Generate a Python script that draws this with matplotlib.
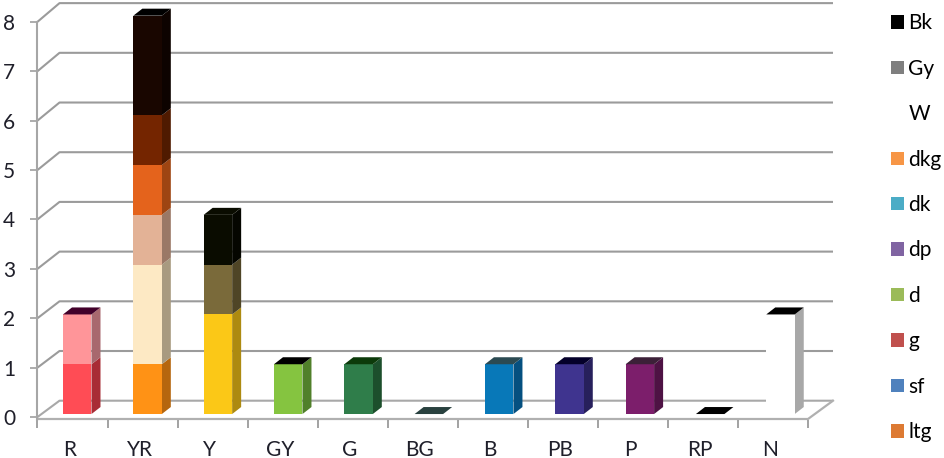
import matplotlib
matplotlib.use("Agg")
import matplotlib.pyplot as plt
from matplotlib.patches import Patch, Polygon

categories = ["R", "YR", "Y", "GY", "G", "BG", "B", "PB", "P", "RP", "N"]
ltg = [1, 1, 2, 1, 1, 0, 1, 1, 1, 0, 0]
sf = [1, 2, 0, 0, 0, 0, 0, 0, 0, 0, 0]
g = [0, 1, 0, 0, 0, 0, 0, 0, 0, 0, 0]
d = [0, 1, 0, 0, 0, 0, 0, 0, 0, 0, 0]
dp = [0, 1, 1, 0, 0, 0, 0, 0, 0, 0, 0]
dk = [0, 0, 0, 0, 0, 0, 0, 0, 0, 0, 0]
dkg = [0, 2, 1, 0, 0, 0, 0, 0, 0, 0, 0]
W = [0, 0, 0, 0, 0, 0, 0, 0, 0, 0, 2]
Gy = [0, 0, 0, 0, 0, 0, 0, 0, 0, 0, 0]
Bk = [0, 0, 0, 0, 0, 0, 0, 0, 0, 0, 0]
series_names = ["ltg", "sf", "g", "d", "dp", "dk", "dkg", "W", "Gy", "Bk"]
series_values = [ltg, sf, g, d, dp, dk, dkg, W, Gy, Bk]
legend_colors = ["#dd7a33", "#4f81bd", "#c0504d", "#9bbb59", "#8064a2",
                 "#4bacc6", "#f79646", "#ffffff", "#7f7f7f", "#000000"]

# (front colour, side colour) of each stacked cell
cell_colors = {
    ("ltg", "R"): ("#ff4c55", "#a82c35"), ("sf", "R"): ("#ff9599", "#a8686e"),
    ("ltg", "YR"): ("#ff9215", "#b5660e"), ("sf", "YR"): ("#fde9c4", "#a89a80"),
    ("g", "YR"): ("#e3b296", "#9a7866"), ("d", "YR"): ("#e4631c", "#9e4512"),
    ("dp", "YR"): ("#742500", "#4f1a00"), ("dkg", "YR"): ("#190600", "#0d0300"),
    ("ltg", "Y"): ("#fbc817", "#ad8a10"), ("dp", "Y"): ("#7a6a3a", "#4f4526"),
    ("dkg", "Y"): ("#0a0c00", "#050600"),
    ("ltg", "GY"): ("#85c440", "#50802a"), ("ltg", "G"): ("#2f7d4a", "#1c4f2c"),
    ("ltg", "B"): ("#0878b8", "#055080"), ("ltg", "PB"): ("#3f348f", "#27205c"),
    ("ltg", "P"): ("#7c1e6b", "#4e1244"), ("W", "N"): ("#ffffff", "#a8a8a8"),
}
top_colors = ["#42002a", "#000000", "#0a0c00", "#000000", "#0c3a0a", "#29413f",
              "#2b4a52", "#04002a", "#3c2038", "#000000", "#000000"]

plt.rcParams["font.family"] = ["Lato", "DejaVu Sans"]
FS = 15
TXT = "#1f1f2a"
W_PX, H_PX = 945, 458
fig = plt.figure(figsize=(W_PX / 100, H_PX / 100), dpi=100)

# axes: x is the category index, y the value on the front (tick) plane
LEFT, RIGHT, TOP_V0, UNIT = 37.5, 808.0, 417.0, 49.4
BOTTOM_PX = 420.0
ax = fig.add_axes([LEFT / W_PX, (H_PX - BOTTOM_PX) / H_PX,
                   (RIGHT - LEFT) / W_PX, BOTTOM_PX / H_PX])
XU = (RIGHT - LEFT) / len(categories)
ax.set_xlim(0, len(categories))
ax.set_ylim((TOP_V0 - BOTTOM_PX) / UNIT, TOP_V0 / UNIT)
ax.patch.set_alpha(0)


def back_y(v):
    return 0.33 + 1.006 * v


def bar_y(v):
    return 0.06 + 1.008 * v


GRID = "#9b9b9b"
BACK_DX = 22 / XU
RIGHT_DX = 25 / XU
for v in range(0, 9):
    col = "#a8a8a8" if v == 0 else GRID
    ax.plot([0, BACK_DX, len(categories) + RIGHT_DX],
            [v, back_y(v), back_y(v)], color=col, lw=1.5,
            clip_on=False, zorder=1, solid_capstyle="butt")
# floor front and right edges
ax.plot([0, len(categories), len(categories) + RIGHT_DX],
        [(TOP_V0 - 419) / UNIT, (TOP_V0 - 419) / UNIT, back_y(0)],
        color="#b0b0b0", lw=1.6, clip_on=False, zorder=1)

# bars
DX, DY = 9 / XU, 7 / UNIT
BAR_W = 28.5 / XU
for i, cat in enumerate(categories):
    x0 = 0.364 + i * 1.004
    x1 = x0 + BAR_W
    base = 0
    z = 3 + i
    for name, vals in zip(series_names, series_values):
        v = vals[i]
        if v == 0:
            continue
        front, side = cell_colors[(name, cat)]
        y0, y1 = bar_y(base), bar_y(base + v)
        ax.add_patch(Polygon([(x1, y0), (x1 + DX, y0 + DY), (x1 + DX, y1 + DY), (x1, y1)],
                             fc=side, ec="none", zorder=z, clip_on=False))
        ax.add_patch(Polygon([(x0, y0), (x1, y0), (x1, y1), (x0, y1)],
                             fc=front, ec="none", zorder=z, clip_on=False))
        base += v
    yt = bar_y(base)
    ax.add_patch(Polygon([(x0, yt), (x1, yt), (x1 + DX, yt + DY), (x0 + DX, yt + DY)],
                         fc=top_colors[i], ec="none", zorder=z, clip_on=False))

# axes furniture
for s in ["top", "right", "bottom"]:
    ax.spines[s].set_visible(False)
ax.spines["left"].set_color("#a6a6a6")
ax.spines["left"].set_linewidth(1.5)
ax.spines["left"].set_bounds((TOP_V0 - 420) / UNIT, 8)
ax.set_yticks(range(0, 9))
ax.tick_params(axis="y", length=5, width=1.3, color="#a6a6a6", pad=11,
               labelsize=FS, labelcolor=TXT)
ax.set_xticks(range(0, len(categories) + 1))
ax.set_xticklabels([])
ax.set_xticks([i + 0.46 for i in range(len(categories))], minor=True)
ax.set_xticklabels(categories, minor=True, fontsize=FS, color=TXT)
ax.tick_params(axis="x", which="major", length=6, width=1.3, color="#9b9b9b")
ax.tick_params(axis="x", which="minor", length=0, pad=14.5)

handles = [Patch(fc=c, ec="none", label=n) for n, c in zip(series_names, legend_colors)][::-1]
fig.legend(handles=handles, loc="upper left", bbox_to_anchor=(883 / W_PX, 1 - 5 / H_PX),
           frameon=False, fontsize=FS, handlelength=0.62, handleheight=0.62,
           handletextpad=0.2, labelspacing=1.22, borderpad=0.4, borderaxespad=0)

fig.savefig("out.png", dpi=100, facecolor="white")
